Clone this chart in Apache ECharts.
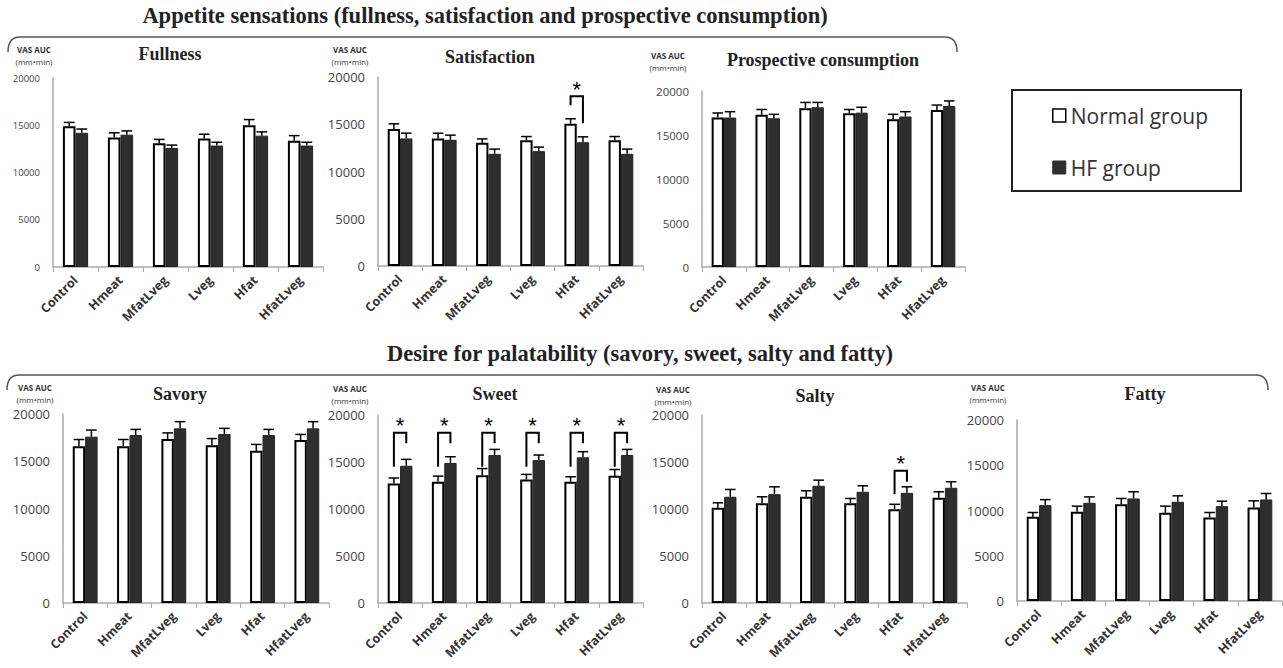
<!DOCTYPE html>
<html><head><meta charset="utf-8">
<script src="https://cdn.jsdelivr.net/npm/echarts@6/dist/echarts.min.js"></script>
<style>html,body{margin:0;padding:0;background:#fff}#c{width:1283px;height:668px}</style>
</head><body><div id="c"></div>
<script>
// ---------- DATA ----------
const categories = ['Control', 'Hmeat', 'MfatLveg', 'Lveg', 'Hfat', 'HfatLveg'];
const yTicks = [0, 5000, 10000, 15000, 20000];
const seriesNames = ['Normal group', 'HF group'];

const fullnessNormal = [14900, 13700, 13100, 13600, 15000, 13350];
const fullnessNormalSem = [400, 500, 400, 450, 600, 550];
const fullnessHF = [14200, 14000, 12600, 12850, 13900, 12850];
const fullnessHFSem = [400, 400, 300, 350, 400, 350];

const satisfactionNormal = [14500, 13500, 13050, 13300, 15050, 13300];
const satisfactionNormalSem = [550, 550, 400, 400, 530, 400];
const satisfactionHF = [13500, 13350, 11870, 12150, 13100, 11870];
const satisfactionHFSem = [560, 500, 500, 430, 570, 500];
const satisfactionSig = [[4, 17950, 17000, 15100]]; // [category, bracket top, left leg end, right leg end]

const prospectiveNormal = [17000, 17300, 18030, 17470, 16800, 17850];
const prospectiveNormalSem = [500, 600, 670, 430, 550, 550];
const prospectiveHF = [16980, 16900, 18150, 17540, 17100, 18300];
const prospectiveHFSem = [670, 450, 550, 610, 550, 570];

const savoryNormal = [16600, 16600, 17350, 16700, 16100, 17240];
const savoryNormalSem = [700, 700, 650, 700, 680, 600];
const savoryHF = [17600, 17770, 18480, 17880, 17770, 18480];
const savoryHFSem = [700, 600, 710, 600, 600, 710];

const sweetNormal = [12700, 12900, 13600, 13140, 12900, 13530];
const sweetNormalSem = [600, 600, 700, 540, 530, 670];
const sweetHF = [14600, 14900, 15740, 15200, 15500, 15740];
const sweetHFSem = [680, 660, 600, 540, 600, 600];
const sweetSig = [[0, 18100, 14500, 17000], [1, 18100, 14500, 17000], [2, 18100, 14500, 17000],
                  [3, 18100, 14500, 17000], [4, 18100, 14500, 17000], [5, 18100, 14500, 17000]];

const saltyNormal = [10120, 10600, 11300, 10600, 9980, 11200];
const saltyNormalSem = [540, 700, 640, 520, 520, 630];
const saltyHF = [11300, 11580, 12470, 11830, 11720, 12260];
const saltyHFSem = [780, 780, 600, 640, 640, 640];
const saltySig = [[4, 14070, 11580, 12900]];

const fattyNormal = [9300, 9850, 10700, 9740, 9220, 10330];
const fattyNormalSem = [480, 630, 630, 740, 560, 740];
const fattyHF = [10590, 10850, 11330, 10960, 10480, 11220];
const fattyHFSem = [610, 650, 740, 660, 550, 660];

const mainTitle1 = 'Appetite sensations (fullness, satisfaction and prospective consumption)';
const mainTitle2 = 'Desire for palatability (savory, sweet, salty and fatty)';
const unitLine1 = 'VAS AUC';
const unitLine2 = '(mm\u2022min)';

// ---------- PANELS (data refs) ----------
const panels = [
  {title: 'Fullness', n: fullnessNormal, ns: fullnessNormalSem, h: fullnessHF, hs: fullnessHFSem, sig: []},
  {title: 'Satisfaction', n: satisfactionNormal, ns: satisfactionNormalSem, h: satisfactionHF, hs: satisfactionHFSem, sig: satisfactionSig},
  {title: 'Prospective consumption', n: prospectiveNormal, ns: prospectiveNormalSem, h: prospectiveHF, hs: prospectiveHFSem, sig: []},
  {title: 'Savory', n: savoryNormal, ns: savoryNormalSem, h: savoryHF, hs: savoryHFSem, sig: []},
  {title: 'Sweet', n: sweetNormal, ns: sweetNormalSem, h: sweetHF, hs: sweetHFSem, sig: sweetSig},
  {title: 'Salty', n: saltyNormal, ns: saltyNormalSem, h: saltyHF, hs: saltyHFSem, sig: saltySig},
  {title: 'Fatty', n: fattyNormal, ns: fattyNormalSem, h: fattyHF, hs: fattyHFSem, sig: []}
];

// ---------- LAYOUT ----------
const layout = [
  {grid: {left: 53, top: 78, width: 270, height: 189}, ySize: 9.5, tx: 170, ty: 54, ux: 34, uy: 49},
  {grid: {left: 378, top: 77, width: 265, height: 189}, ySize: 13, tx: 490, ty: 57, ux: 350, uy: 49},
  {grid: {left: 702, top: 91, width: 263, height: 176}, ySize: 11.5, tx: 823, ty: 60, ux: 668, uy: 55},
  {grid: {left: 63, top: 414, width: 266, height: 189}, ySize: 13, tx: 180, ty: 394, ux: 35, uy: 387},
  {grid: {left: 378, top: 415, width: 265, height: 188}, ySize: 13, tx: 495, ty: 394, ux: 350, uy: 388},
  {grid: {left: 702, top: 415, width: 265, height: 188}, ySize: 13, tx: 815, ty: 396, ux: 673, uy: 389},
  {grid: {left: 1017, top: 420, width: 265, height: 181}, ySize: 13, tx: 1145, ty: 394, ux: 988, uy: 387}
];

const HALF = 0.14; // bar center offset as fraction of band
function errRender(sign) {
  return function (params, api) {
    const cat = api.value(0), v = api.value(1), top = api.value(2);
    const band = api.size([1, 0])[0];
    const p0 = api.coord([cat, v]), p1 = api.coord([cat, top]);
    const x = p0[0] + sign * band * HALF;
    const cw = band * 0.12;
    const st = {stroke: '#000', lineWidth: 1.5};
    return {type: 'group', children: [
      {type: 'line', shape: {x1: x, y1: p0[1], x2: x, y2: p1[1]}, style: st},
      {type: 'line', shape: {x1: x - cw, y1: p1[1], x2: x + cw, y2: p1[1]}, style: st}
    ]};
  };
}
function sigRender(params, api) {
  const cat = api.value(0), top = api.value(1), l = api.value(2), r = api.value(3);
  const band = api.size([1, 0])[0];
  const pt = api.coord([cat, top]);
  const xl = pt[0] - band * HALF, xr = pt[0] + band * HALF;
  const yl = api.coord([cat, l])[1], yr = api.coord([cat, r])[1];
  return {type: 'group', children: [
    {type: 'polyline', shape: {points: [[xl, yl], [xl, pt[1]], [xr, pt[1]], [xr, yr]]},
      style: {stroke: '#000', lineWidth: 2, fill: null}},
    {type: 'text', style: {text: '*', x: (xl + xr) / 2, y: pt[1] - 18, align: 'center', verticalAlign: 'top',
      fontSize: 22, fontFamily: 'Liberation Sans', fill: '#000'}}
  ]};
}

const grids = [], xAxes = [], yAxes = [], series = [], graphics = [];
panels.forEach((p, i) => {
  const L = layout[i];
  grids.push(Object.assign({containLabel: false}, L.grid));
  xAxes.push({gridIndex: i, type: 'category', data: categories,
    axisLine: {lineStyle: {color: '#aaa', width: 1.5}},
    axisTick: {show: true, length: 5, lineStyle: {color: '#aaa'}},
    axisLabel: {rotate: 45, interval: 0, fontWeight: 'bold', fontSize: 12.5, color: '#333', margin: 11, fontFamily: 'Open Sans'}});
  yAxes.push({gridIndex: i, type: 'value', min: yTicks[0], max: yTicks[yTicks.length - 1], interval: yTicks[1] - yTicks[0],
    axisLine: {show: true, lineStyle: {color: '#aaa', width: 1.5}}, axisTick: {show: false}, splitLine: {show: false},
    axisLabel: {fontSize: L.ySize, color: '#444', margin: 13, fontFamily: 'Open Sans', formatter: v => String(v)}});
  series.push({name: seriesNames[0], type: 'bar', xAxisIndex: i, yAxisIndex: i, data: p.n,
    barGap: '0%', barCategoryGap: '44%',
    itemStyle: {color: '#fff', borderColor: '#000', borderWidth: 2}});
  series.push({name: seriesNames[1], type: 'bar', xAxisIndex: i, yAxisIndex: i, data: p.h,
    barGap: '0%', barCategoryGap: '44%',
    itemStyle: {color: '#2e2e2e', borderColor: '#222', borderWidth: 1}});
  series.push({name: 'errN' + i, type: 'custom', xAxisIndex: i, yAxisIndex: i, z: 5,
    renderItem: errRender(-1), encode: {x: 0, y: [1, 2]},
    data: categories.map((c, k) => [k, p.n[k], p.n[k] + p.ns[k]])});
  series.push({name: 'errH' + i, type: 'custom', xAxisIndex: i, yAxisIndex: i, z: 5,
    renderItem: errRender(1), encode: {x: 0, y: [1, 2]},
    data: categories.map((c, k) => [k, p.h[k], p.h[k] + p.hs[k]])});
  if (p.sig.length) {
    series.push({name: 'sig' + i, type: 'custom', xAxisIndex: i, yAxisIndex: i, z: 6,
      renderItem: sigRender, encode: {x: 0, y: [1, 2, 3]}, data: p.sig});
  }
  graphics.push({type: 'text', x: L.tx, y: L.ty, style: {text: p.title,
    font: 'bold 18px "Liberation Serif"', fill: '#222', textAlign: 'center', textVerticalAlign: 'middle'}});
  graphics.push({type: 'text', x: L.ux, y: L.uy, style: {text: unitLine1,
    font: 'bold 8px "Open Sans"', fill: '#333', textAlign: 'center', textVerticalAlign: 'middle'}});
  graphics.push({type: 'text', x: L.ux, y: L.uy + 12, style: {text: unitLine2,
    font: '8px "Open Sans"', fill: '#333', textAlign: 'center', textVerticalAlign: 'middle'}});
});

graphics.push({type: 'text', x: 485, y: 15, style: {text: mainTitle1, font: 'bold 22.5px "Liberation Serif"', fill: '#222',
  textAlign: 'center', textVerticalAlign: 'middle'}});
graphics.push({type: 'text', x: 640, y: 353, style: {text: mainTitle2, font: 'bold 22.5px "Liberation Serif"', fill: '#222',
  textAlign: 'center', textVerticalAlign: 'middle'}});
const braceStyle = {stroke: '#555', lineWidth: 1.5, fill: null};
function brace(x1, x2, y, drop) {
  graphics.push({type: 'line', shape: {x1: x1 + 12, y1: y, x2: x2 - 12, y2: y}, style: braceStyle});
  graphics.push({type: 'bezierCurve', shape: {x1: x1, y1: y + drop, cpx1: x1, cpy1: y, x2: x1 + 12, y2: y}, style: braceStyle});
  graphics.push({type: 'bezierCurve', shape: {x1: x2 - 12, y1: y, cpx1: x2, cpy1: y, x2: x2, y2: y + drop}, style: braceStyle});
}
brace(8, 957, 37, 15);
brace(7, 1268, 375, 15);

const chart = echarts.init(document.getElementById('c'), null, {renderer: 'svg'});
chart.setOption({
  animation: false,
  backgroundColor: '#fff',
  grid: grids, xAxis: xAxes, yAxis: yAxes, series: series, graphic: {elements: graphics},
  legend: {
    orient: 'vertical', left: 1012, top: 90, padding: [15, 33, 13, 40], itemGap: 31,
    itemWidth: 13, itemHeight: 13, borderColor: '#222', borderWidth: 2,
    textStyle: {fontSize: 21, color: '#333', fontFamily: 'Open Sans'},
    data: [
      {name: seriesNames[0], icon: 'rect', itemStyle: {color: '#fff', borderColor: '#000', borderWidth: 1.5}},
      {name: seriesNames[1], icon: 'rect', itemStyle: {color: '#2e2e2e', borderColor: '#2e2e2e', borderWidth: 1}}
    ]
  }
});
</script>
</body></html>
